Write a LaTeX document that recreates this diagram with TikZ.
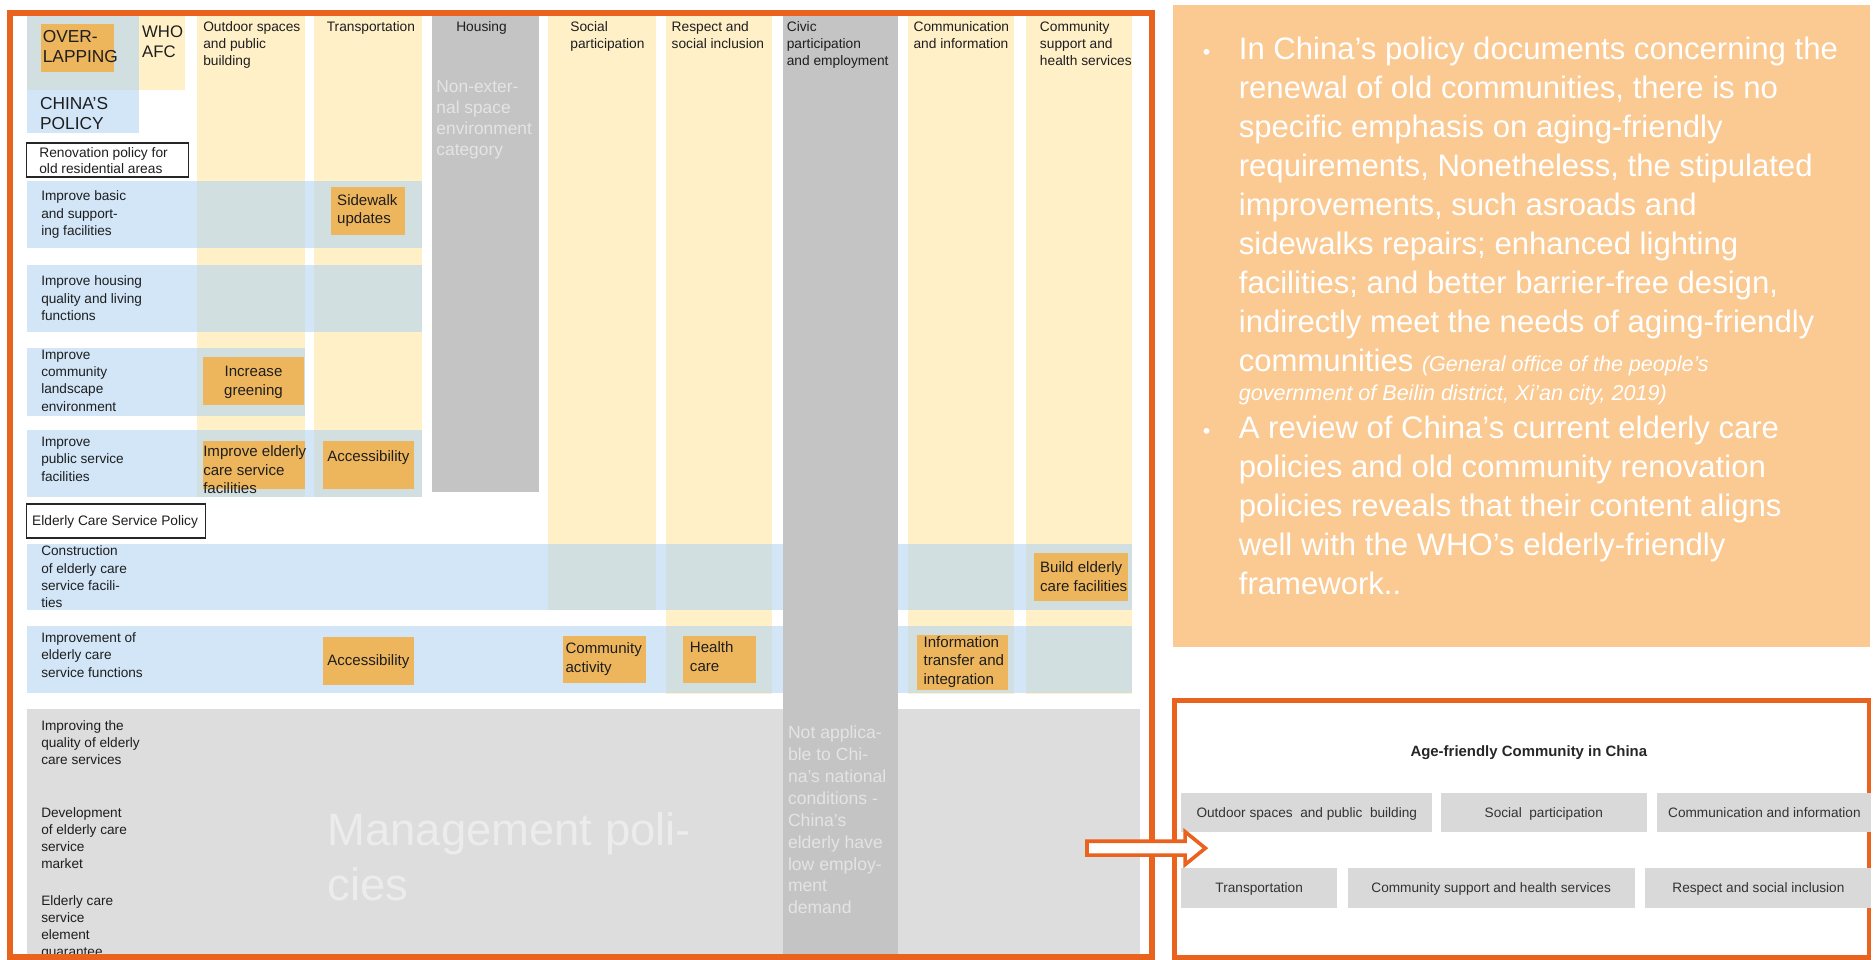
\documentclass[tikz,border=0pt]{standalone}
\usepackage{fontspec}
\setmainfont{Liberation Sans}
\definecolor{frameor}{RGB}{233,98,30}
\definecolor{yel}{RGB}{255,240,200}
\definecolor{bluerow}{RGB}{180,213,243}
\definecolor{cellor}{RGB}{238,182,92}
\definecolor{gdark}{RGB}{196,196,196}
\definecolor{gmgmt}{RGB}{221,221,221}
\definecolor{gbox}{RGB}{217,217,217}
\definecolor{peach}{RGB}{251,201,146}
\definecolor{txtdark}{RGB}{30,30,30}
\definecolor{ghosttext}{RGB}{228,228,228}
\definecolor{mgmttext}{RGB}{236,236,236}
\newcommand{\mlL}[1]{\begin{tabular}[t]{@{}l@{}}#1\end{tabular}}
\newcommand{\mlC}[1]{\begin{tabular}[t]{@{}c@{}}#1\end{tabular}}
\begin{document}
\begin{tikzpicture}[x=1pt,y=-1pt,
  every node/.style={inner sep=0pt,outer sep=0pt,text=txtdark},
  tl/.style={anchor=base west},
  hdr/.style={tl,font=\fontsize{11.5}{14.5}\selectfont},
  lbl/.style={tl,font=\fontsize{11.4}{14.5}\selectfont},
  celltxt/.style={tl,font=\fontsize{12.6}{15.5}\selectfont},
  cellctr/.style={anchor=base,font=\fontsize{12.6}{15.5}\selectfont},
  bigtxt/.style={tl,font=\fontsize{14.5}{16.7}\selectfont},
  ghost/.style={tl,text=ghosttext,font=\fontsize{14.7}{18.3}\selectfont},
  notetxt/.style={tl,text=white,font=\fontsize{26}{32.6}\selectfont},
  boxtxt/.style={anchor=base,text=black!80,font=\fontsize{11.4}{14}\selectfont},
  yelcol/.style={fill=yel},
  bluest/.style={fill=bluerow,fill opacity=0.6},
  cellbox/.style={fill=cellor},
  policybox/.style={draw=black!85,line width=1.1pt,fill=white},
  gbx/.style={fill=gbox},
]
\useasboundingbox (0,0) rectangle (1568,802);

% ---------- yellow WHO columns ----------
\fill[yelcol] (22.4,12.5) rectangle (154.7,75.3);
\fill[yelcol] (165,12.5) rectangle (255,415.8);
\fill[yelcol] (263,12.5) rectangle (353,415.8);
\fill[yelcol] (458,12.5) rectangle (549,510);
\fill[yelcol] (557,12.5) rectangle (646,580);
\fill[yelcol] (759,12.5) rectangle (848,580);
\fill[yelcol] (858,12.5) rectangle (947,580);

% ---------- blue China policy rows ----------
\fill[bluest] (22.4,12.5) rectangle (116.5,111.5);
\fill[bluest] (22.4,151.5) rectangle (353,207.7);
\fill[bluest] (22.4,221.6) rectangle (353,277.5);
\fill[bluest] (22.4,291) rectangle (255,348);
\fill[bluest] (22.4,359.7) rectangle (353,415.8);
\fill[bluest] (22.4,455) rectangle (946.6,510);
\fill[bluest] (22.4,523.5) rectangle (946.6,579.7);

% ---------- management block and gray columns ----------
\fill[gmgmt] (22.4,593) rectangle (953,800);
\fill[gdark] (361,12.5) rectangle (450.5,411.6);
\fill[gdark] (655,12.5) rectangle (751,800);

% ---------- orange cells ----------
\fill[cellbox] (34.3,20) rectangle (95.6,60);
\fill[cellbox] (277,156.6) rectangle (338.4,196.5);
\fill[cellbox] (170,298.7) rectangle (254,339);
\fill[cellbox] (170,368.5) rectangle (255,409);
\fill[cellbox] (269.7,368.5) rectangle (346,409);
\fill[cellbox] (270,533) rectangle (346,573);
\fill[cellbox] (470.8,531.6) rectangle (540,571.3);
\fill[cellbox] (570.8,531.6) rectangle (632,571.3);
\fill[cellbox] (767,531) rectangle (843,577);
\fill[cellbox] (865,462.6) rectangle (943,503);

% ---------- policy title boxes ----------
\draw[policybox] (22.4,119.5) rectangle (157.7,148);
\draw[policybox] (22.4,421.5) rectangle (171.7,450);

% ---------- top-left labels ----------
\node[bigtxt] (overl) at (35.8,35.9) {\mlL{OVER-\\LAPPING}};
\node[bigtxt,font=\fontsize{14}{16}\selectfont] (whoafc) at (118.9,31.7) {\mlL{WHO\\AFC}};
\node[bigtxt] (chinapol) at (33.5,91.6) {\mlL{CHINA'S\\POLICY}};
\node[tl,font=\fontsize{11.5}{13.4}\selectfont] (renov) at (32.9,131.6) {\mlL{Renovation policy for\\old residential areas}};
\node[tl,font=\fontsize{11.5}{13.4}\selectfont] (eldpol) at (26.9,439.6) {Elderly Care Service Policy};

% ---------- column headers ----------
\node[hdr] (hOut) at (170,26) {\mlL{Outdoor spaces\\and public\\building}};
\node[hdr] (hTra) at (273.3,26) {Transportation};
\node[hdr] (hHou) at (381.6,26) {Housing};
\node[hdr] (hSoc) at (477,26) {\mlL{Social\\participation}};
\node[hdr] (hRes) at (561.7,26) {\mlL{Respect and\\social inclusion}};
\node[hdr] (hCiv) at (658,26) {\mlL{Civic\\participation\\and employment}};
\node[hdr] (hCom) at (764,26) {\mlL{Communication\\and information}};
\node[hdr] (hCsu) at (869.7,26) {\mlL{Community\\support and\\health services}};

% ---------- row labels ----------
\node[lbl] (r1) at (34.5,168) {\mlL{Improve basic\\and support-\\ing facilities}};
\node[lbl] (r2) at (34.5,239) {\mlL{Improve housing\\quality and living\\functions}};
\node[lbl] (r3) at (34.5,300.3) {\mlL{Improve\\community\\landscape\\environment}};
\node[lbl] (r4) at (34.5,373.4) {\mlL{Improve\\public service\\facilities}};
\node[lbl] (r5) at (34.5,464.7) {\mlL{Construction\\of elderly care\\service facili-\\ties}};
\node[lbl] (r6) at (34.5,537.2) {\mlL{Improvement of\\elderly care\\service functions}};
\node[lbl,font=\fontsize{11.4}{14.2}\selectfont] (m1) at (34.5,611.1) {\mlL{Improving the\\quality of elderly\\care services}};
\node[lbl,font=\fontsize{11.4}{14.2}\selectfont] (m2) at (34.5,683.4) {\mlL{Development\\of elderly care\\service\\market}};
\node[lbl,font=\fontsize{11.4}{14.2}\selectfont] (m3) at (34.5,757.4) {\mlL{Elderly care\\service\\element\\guarantee}};

% ---------- cell texts ----------
\node[celltxt] (cSide) at (282,171.8) {\mlL{Sidewalk\\updates}};
\node[cellctr] (cGreen) at (212,315.2) {\mlC{Increase\\greening}};
\node[celltxt] (cElder) at (170,382.1) {\mlL{Improve elderly\\care service\\facilities}};
\node[cellctr] (cAcc1) at (308,385.7) {Accessibility};
\node[cellctr] (cAcc2) at (308,556.3) {Accessibility};
\node[celltxt,font=\fontsize{12.6}{16}\selectfont] (cComm) at (473,546.8) {\mlL{Community\\activity}};
\node[celltxt] (cHealth) at (577,545.8) {\mlL{Health\\care}};
\node[celltxt] (cInfo) at (772.4,541.3) {\mlL{Information\\transfer and\\integration}};
\node[celltxt] (cBuild) at (869.8,479.1) {\mlL{Build elderly\\care facilities}};

% ---------- ghost texts ----------
\node[ghost,font=\fontsize{14.5}{17.4}\selectfont] (gHou) at (365,77.5) {\mlL{Non-exter-\\nal space\\environment\\category}};
\node[ghost] (gCiv) at (659,617.8) {\mlL{Not applica-\\ble to Chi-\\na's national\\conditions -\\China's\\elderly have\\low employ-\\ment\\demand}};
\node[tl,text=mgmttext,font=\fontsize{38}{46}\selectfont] (gMgmt) at (273.8,706.7) {\mlL{Management poli-\\cies}};

% ---------- main frame ----------
\draw[frameor,line width=5pt] (8.5,10.5) rectangle (963,800);

% ---------- right note box ----------
\fill[peach] (981,4) rectangle (1564,541);
\node[tl,text=white,font=\fontsize{18}{20}\selectfont] (b1) at (1006,50) {•};
\node[notetxt] (note1) at (1036,50) {\mlL{In China’s policy documents concerning the\\renewal of old communities, there is no\\specific emphasis on aging-friendly\\requirements, Nonetheless, the stipulated\\improvements, such asroads and\\sidewalks repairs; enhanced lighting\\facilities; and better barrier-free design,\\indirectly meet the needs of aging-friendly\\communities {\fontsize{18}{20}\selectfont\itshape (General office of the people’s}}};
\node[tl,text=white,font=\fontsize{18}{20}\selectfont\itshape] (note1c) at (1036,335) {government of Beilin district, Xi’an city, 2019)};
\node[tl,text=white,font=\fontsize{18}{20}\selectfont] (b2) at (1006,366.5) {•};
\node[notetxt] (note2) at (1036,366.5) {\mlL{A review of China's current elderly care\\policies and old community renovation\\policies reveals that their content aligns\\well with the WHO's elderly-friendly\\framework..}};

% ---------- age-friendly community box ----------
\draw[frameor,line width=4pt] (982,586) rectangle (1563,800.5);
\node[anchor=base,font=\fontsize{12.5}{14}\selectfont\bfseries,text=black!85] (afTitle) at (1278.5,632.5) {Age-friendly Community in China};
\fill[gbx] (988,663) rectangle (1197.6,696);
\fill[gbx] (1205,663) rectangle (1377,696);
\fill[gbx] (1386,663) rectangle (1565,696);
\fill[gbx] (988,725.5) rectangle (1118,759);
\fill[gbx] (1127,725.5) rectangle (1367,759);
\fill[gbx] (1376,725.5) rectangle (1565,759);
\node[boxtxt] (bA) at (1092.8,684) {Outdoor spaces\ \ and public\ \ building};
\node[boxtxt] (bB) at (1291,684) {Social\ \ participation};
\node[boxtxt] (bC) at (1475.5,684) {Communication and information};
\node[boxtxt] (bD) at (1053,746.5) {Transportation};
\node[boxtxt] (bE) at (1247,746.5) {Community support and health services};
\node[boxtxt] (bF) at (1470.5,746.5) {Respect and social inclusion};

% ---------- block arrow ----------
\draw[frameor,line width=3pt,fill=white,line join=miter]
  (909,703.5) -- (991,703.5) -- (991,695.5) -- (1008,709.3) -- (991,723.1) -- (991,715.1) -- (909,715.1) -- cycle;
\end{tikzpicture}
\end{document}
